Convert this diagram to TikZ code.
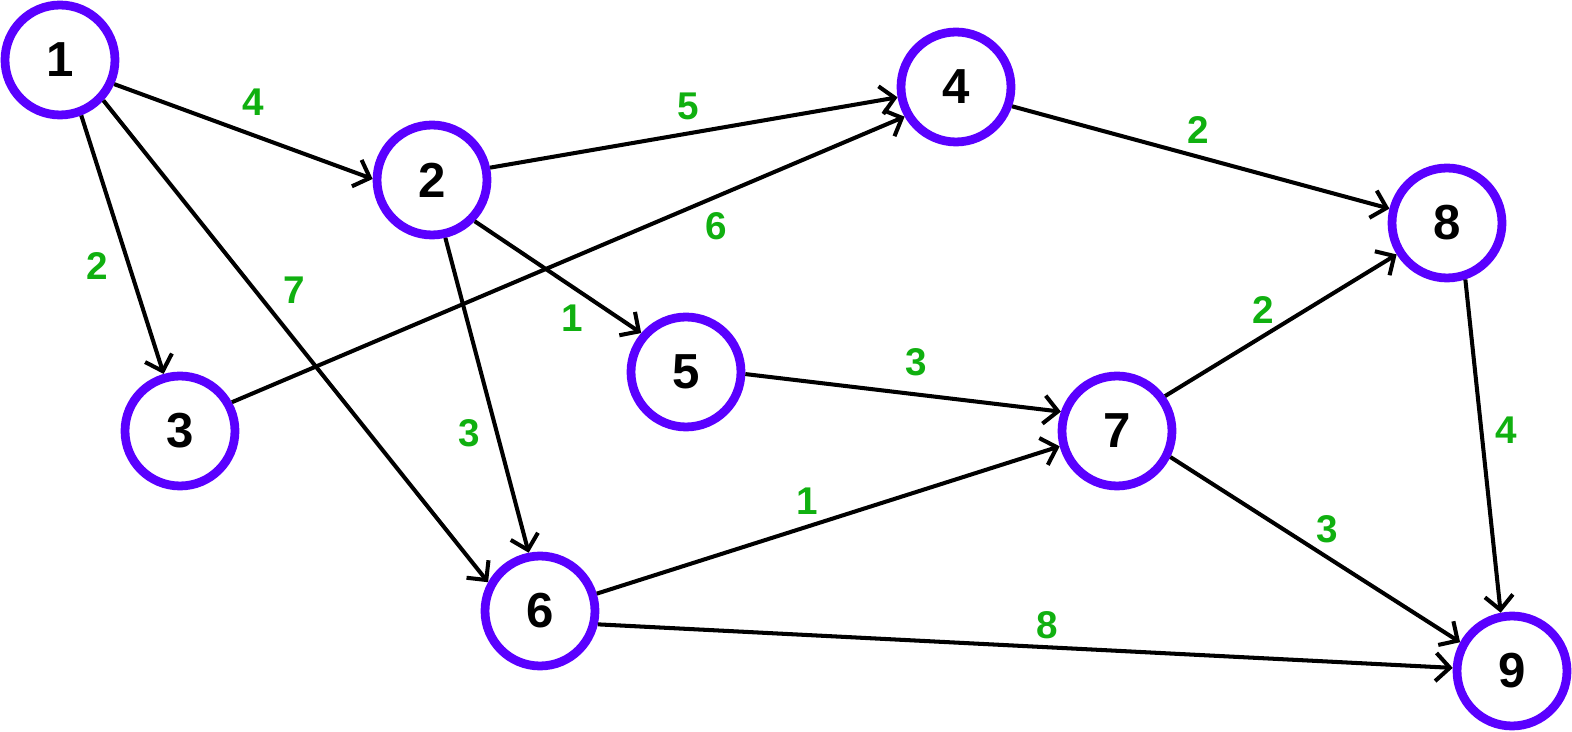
\documentclass[tikz,border=0pt]{standalone}
\usepackage{fontspec}
\setmainfont{Liberation Sans}
\usetikzlibrary{arrows.meta}
\definecolor{ringc}{HTML}{5A00FF}
\definecolor{wgreen}{HTML}{10B010}
\tikzset{
  vnode/.style={circle,draw=ringc,line width=5pt,minimum size=2.2cm,inner sep=0pt,fill=white,
    font=\fontsize{28}{30}\selectfont\bfseries},
  edgeline/.style={line width=2.3pt,-{Straight Barb[length=8pt,width=16pt,line width=2.3pt]}},
  wlabel/.style={text=wgreen,font=\fontsize{22}{24}\selectfont\bfseries,inner sep=0pt}
}
\begin{document}
\begin{tikzpicture}[x=0.02cm,y=-0.02cm]
\useasboundingbox (0,0) rectangle (1572,732);
\node[vnode] (n1) at (60,60) {1};
\node[vnode] (n2) at (432,180) {2};
\node[vnode] (n3) at (180,431) {3};
\node[vnode] (n4) at (956,87) {4};
\node[vnode] (n5) at (686,372) {5};
\node[vnode] (n6) at (540,611) {6};
\node[vnode] (n7) at (1117,431) {7};
\node[vnode] (n8) at (1447,223) {8};
\node[vnode] (n9) at (1512,671) {9};

\draw[edgeline] (n1.-24) -- (n2.179);
\draw[edgeline] (n1.-69) -- (n3.106);
\draw[edgeline] (n1.-43) -- (n6.151);
\draw[edgeline] (n2.12) -- (n4.190);
\draw[edgeline] (n2.-44) -- (n5.139);
\draw[edgeline] (n2.-77) -- (n6.101);
\draw[edgeline] (n3.29) -- (n4.210);
\draw[edgeline] (n4.-19) -- (n8.166);
\draw[edgeline] (n5.-2) -- (n7.161);
\draw[edgeline] (n6.17) -- (n7.195);
\draw[edgeline] (n6.-13) -- (n9.177);
\draw[edgeline] (n7.36) -- (n8.212);
\draw[edgeline] (n7.-26) -- (n9.151);
\draw[edgeline] (n8.-72) -- (n9.101);

\node[wlabel] (l12) at (253,102) {4};
\node[wlabel] (l13) at (97,266) {2};
\node[wlabel] (l16) at (294,290) {7};
\node[wlabel] (l24) at (688,106) {5};
\node[wlabel] (l25) at (572,318) {1};
\node[wlabel] (l26) at (469,433) {3};
\node[wlabel] (l34) at (716,226) {6};
\node[wlabel] (l48) at (1198,130) {2};
\node[wlabel] (l57) at (916,362) {3};
\node[wlabel] (l67) at (807,501) {1};
\node[wlabel] (l69) at (1047,625) {8};
\node[wlabel] (l78) at (1263,310) {2};
\node[wlabel] (l79) at (1327,529) {3};
\node[wlabel] (l89) at (1506,430) {4};
\end{tikzpicture}
\end{document}
